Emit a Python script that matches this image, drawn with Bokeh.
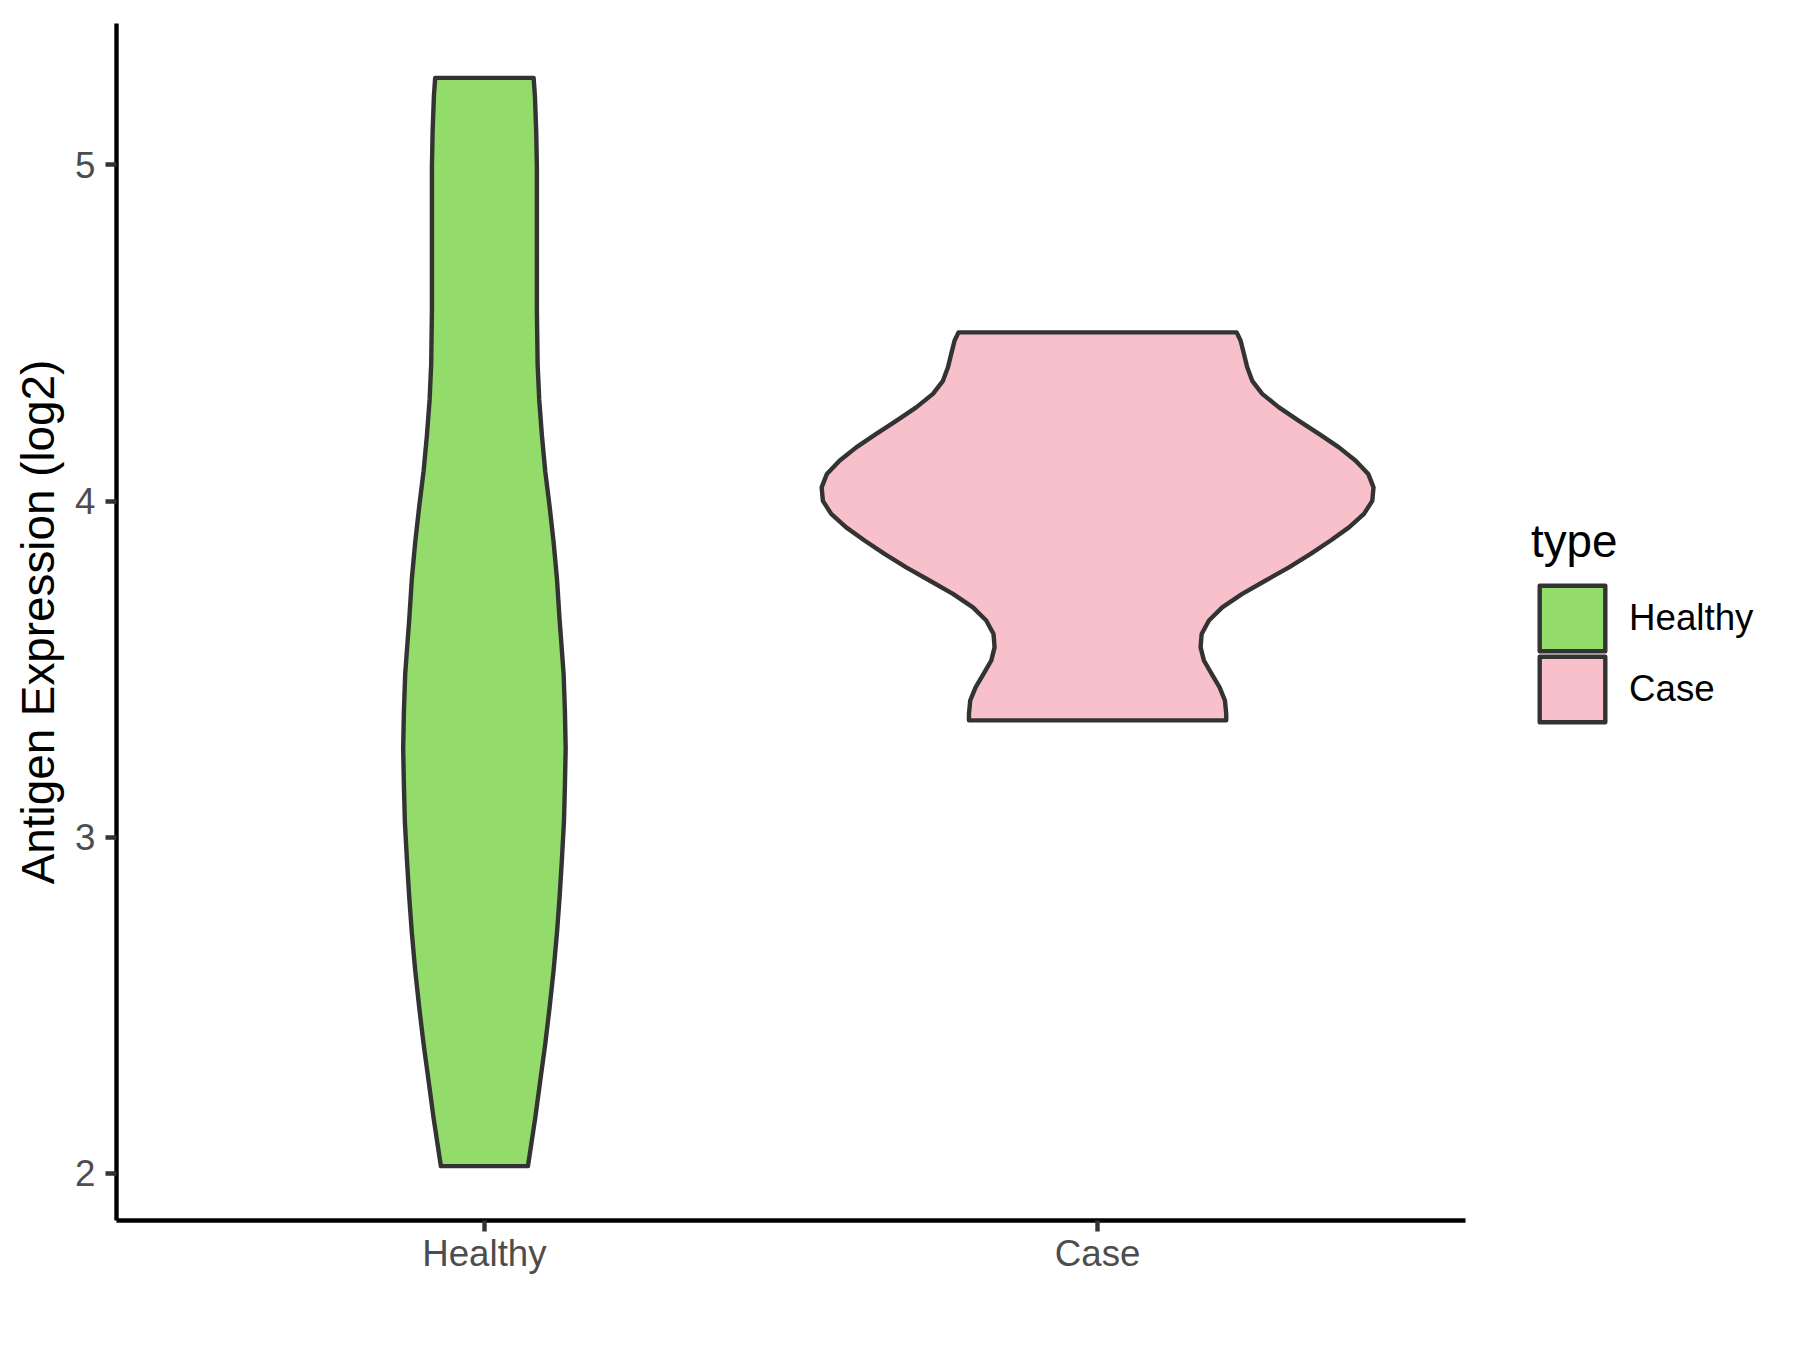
from bokeh.plotting import figure
from bokeh.models import Range1d, FixedTicker, Legend, LegendItem
from bokeh.embed import file_html
from bokeh.resources import INLINE

# ---------------- data ----------------
categories = ["Healthy", "Case"]
category_positions = [1, 2]
fill_colors = ["#93DB6A", "#F7C0CB"]

# violin outlines: y value and half width (in category units)
healthy_y = [2.022, 2.165, 2.275, 2.385, 2.495, 2.605, 2.715, 2.824, 2.935, 3.045,
             3.155, 3.265, 3.375, 3.485, 3.595, 3.645, 3.770, 3.877, 3.983, 4.089,
             4.195, 4.301, 4.407, 4.567, 4.779, 4.992, 5.098, 5.204, 5.259]
healthy_half_width = [0.0710, 0.0829, 0.0910, 0.0992, 0.1064, 0.1129, 0.1183, 0.1227, 0.1264, 0.1297,
                      0.1313, 0.1325, 0.1313, 0.1292, 0.1248, 0.1227, 0.1183, 0.1129, 0.1064, 0.0992,
                      0.0938, 0.0894, 0.0868, 0.0856, 0.0856, 0.0856, 0.0845, 0.0824, 0.0803]

case_y = [3.348, 3.367, 3.407, 3.446, 3.486, 3.526, 3.565, 3.605, 3.645, 3.684,
          3.724, 3.764, 3.803, 3.843, 3.883, 3.922, 3.962, 4.001, 4.041, 4.081,
          4.120, 4.160, 4.200, 4.239, 4.279, 4.319, 4.358, 4.398, 4.438, 4.477, 4.502]
case_half_width = [0.2098, 0.2098, 0.2077, 0.1990, 0.1860, 0.1734, 0.1680, 0.1697, 0.1816, 0.2033,
                   0.2359, 0.2741, 0.3121, 0.3475, 0.3801, 0.4100, 0.4344, 0.4480, 0.4500, 0.4414,
                   0.4209, 0.3936, 0.3610, 0.3284, 0.2958, 0.2685, 0.2522, 0.2440, 0.2387, 0.2333, 0.2268]

y_ticks = [2, 3, 4, 5]
y_label = "Antigen Expression (log2)"
legend_title = "type"

FONT = "Liberation Sans"

# ---------------- layout ----------------
W, H = 1784, 1334
BORDER_L, BORDER_T, BORDER_B, BORDER_R = 116, 23, 114, 4
PANEL_W = 1349                      # drawn width of the ggplot panel (x from 0.4 to 2.6)
frame_w = W - BORDER_L - BORDER_R
x_start, x_panel_end = 0.4, 2.6
x_end = x_start + (x_panel_end - x_start) * frame_w / PANEL_W

data_min = min(min(healthy_y), min(case_y))
data_max = max(max(healthy_y), max(case_y))
pad = 0.05 * (data_max - data_min)

p = figure(width=W, height=H,
           x_range=Range1d(x_start, x_end),
           y_range=Range1d(data_min - pad, data_max + pad),
           output_backend="svg", toolbar_location=None,
           min_border_left=BORDER_L, min_border_top=BORDER_T,
           min_border_bottom=BORDER_B, min_border_right=BORDER_R)
p.outline_line_color = None
p.xgrid.visible = False
p.ygrid.visible = False
p.background_fill_color = "white"
p.border_fill_color = "white"

renderers = []
for pos, ys, hw, col in [(category_positions[0], healthy_y, healthy_half_width, fill_colors[0]),
                         (category_positions[1], case_y, case_half_width, fill_colors[1])]:
    xs = [pos + w for w in hw] + [pos - w for w in reversed(hw)]
    yy = list(ys) + list(reversed(ys))
    r = p.patch(xs, yy, fill_color=col, line_color="#333333", line_width=4.4,
                line_join="round")
    renderers.append(r)

# axes
for ax in (p.xaxis[0], p.yaxis[0]):
    ax.axis_line_color = "black"
    ax.axis_line_width = 4.4
    ax.major_tick_line_color = "#333333"
    ax.major_tick_line_width = 4.4
    ax.major_tick_out = 11
    ax.major_tick_in = 0
    ax.minor_tick_line_color = None
    ax.major_label_text_color = "#4D4D4D"
    ax.major_label_text_font = FONT
    ax.major_label_text_font_size = "36.7px"
    ax.axis_label_text_font = FONT
    ax.axis_label_text_font_style = "normal"
    ax.axis_label_text_color = "black"
    ax.axis_label_text_font_size = "45.8px"

p.xaxis.ticker = FixedTicker(ticks=category_positions)
p.xaxis.bounds = (x_start, x_panel_end)
p.xaxis.major_label_overrides = {pos: name for pos, name in zip(category_positions, categories)}
p.xaxis.major_label_standoff = 1

p.yaxis.ticker = FixedTicker(ticks=y_ticks)
p.yaxis.major_label_standoff = 10
p.yaxis.axis_label = y_label
p.yaxis.axis_label_standoff = 8

legend_common = dict(orientation="vertical", glyph_width=82, glyph_height=82, spacing=0,
                     label_standoff=16, padding=0, margin=0,
                     border_line_color=None, background_fill_alpha=0,
                     label_text_font=FONT, label_text_font_size="36.7px",
                     label_text_color="black")

legend_a = Legend(items=[LegendItem(label=categories[0], renderers=[renderers[0]])],
                  title=legend_title, location=(1415, 561),
                  title_text_font=FONT, title_text_font_size="45.8px",
                  title_text_font_style="normal", title_text_color="black",
                  title_standoff=9, **legend_common)
legend_b = Legend(items=[LegendItem(label=categories[1], renderers=[renderers[1]])],
                  location=(1415, 490), **legend_common)
p.add_layout(legend_a)
p.add_layout(legend_b)

open("out.html", "w").write(file_html(p, INLINE))
